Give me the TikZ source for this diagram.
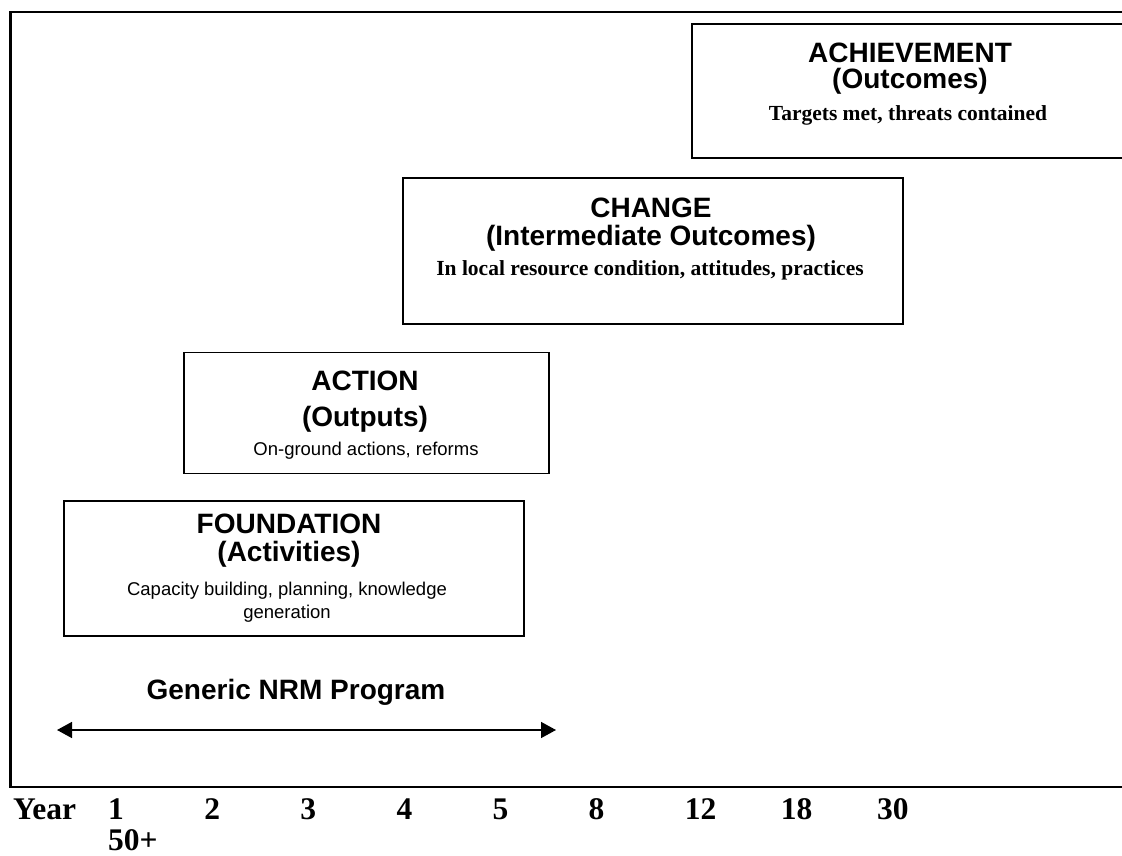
\documentclass[tikz,border=0pt]{standalone}
\usepackage{fontspec}
\setmainfont{Liberation Serif}
\setsansfont{Liberation Sans}
\usetikzlibrary{arrows.meta}
\tikzset{
 stagebox/.style={draw=black, line width=1.8pt, anchor=north west, inner sep=0pt},
 head/.style={anchor=base, font=\sffamily\bfseries\fontsize{28}{28}\selectfont, inner sep=0pt},
 subsans/.style={anchor=base, font=\sffamily\fontsize{18.5}{18.5}\selectfont, inner sep=0pt},
 subserif/.style={anchor=base, font=\rmfamily\bfseries\fontsize{21.5}{21.5}\selectfont, inner sep=0pt},
 yearlbl/.style={anchor=base west, font=\rmfamily\bfseries\fontsize{31.5}{31.5}\selectfont, inner sep=0pt},
}
\begin{document}
\begin{tikzpicture}[x=1pt,y=-1pt]
\useasboundingbox (0,0) rectangle (1122,856);
\fill[white] (0,0) rectangle (1122,856);
% outer frame (open to the right)
\draw[line width=2.4pt] (1130,12) -- (10.5,12) -- (10.5,787) -- (1130,787);

% boxes
\node[stagebox, minimum width=440pt, minimum height=134pt] (ach) at (691,23.5) {};
\node[stagebox, minimum width=500pt, minimum height=146pt] (chg) at (402,177) {};
\node[stagebox, minimum width=365pt, minimum height=121pt] (act) at (183,351.5) {};
\node[stagebox, minimum width=460pt, minimum height=135pt] (fnd) at (63,500) {};

% achievement
\node[head] (achA) at (910,63) {ACHIEVEMENT};
\node[head] (achB) at (910,89) {(Outcomes)};
\node[subserif] (achC) at (908,121) {Targets met, threats contained};

% change
\node[head] (chgA) at (651,217) {CHANGE};
\node[head] (chgB) at (651,245) {(Intermediate Outcomes)};
\node[subserif] (chgC) at (650,275) {In local resource condition, attitudes, practices};

% action
\node[head] (actA) at (365,390) {ACTION};
\node[head] (actB) at (365,426) {(Outputs)};
\node[subsans] (actC) at (366,455) {On-ground actions, reforms};

% foundation
\node[head] (fndA) at (289,533) {FOUNDATION};
\node[head] (fndB) at (289,561) {(Activities)};
\node[subsans] (fndC) at (287,595) {Capacity building, planning, knowledge};
\begin{scope}
\clip (63,600) rectangle (523,621);
\node[subsans] (fndD) at (287,618) {generation};
\end{scope}

% program span
\node[head] (gen) at (296,699) {Generic NRM Program};
\coordinate (aL) at (57,730);
\coordinate (aR) at (556,730);
\draw[line width=1.5pt, {Triangle[length=15pt,width=16pt]}-{Triangle[length=15pt,width=16pt]}] (aL) -- (aR);

% years
\node[yearlbl] (yr) at (13,819) {Year};
\foreach \v [count=\i from 0] in {1,2,3,4,5,8,12,18,30} {
  \node[yearlbl] (y\i) at ({108+96.1*\i},819) {\v};
}
\node[yearlbl] (y50) at (108,850) {50+};
\end{tikzpicture}
\end{document}
